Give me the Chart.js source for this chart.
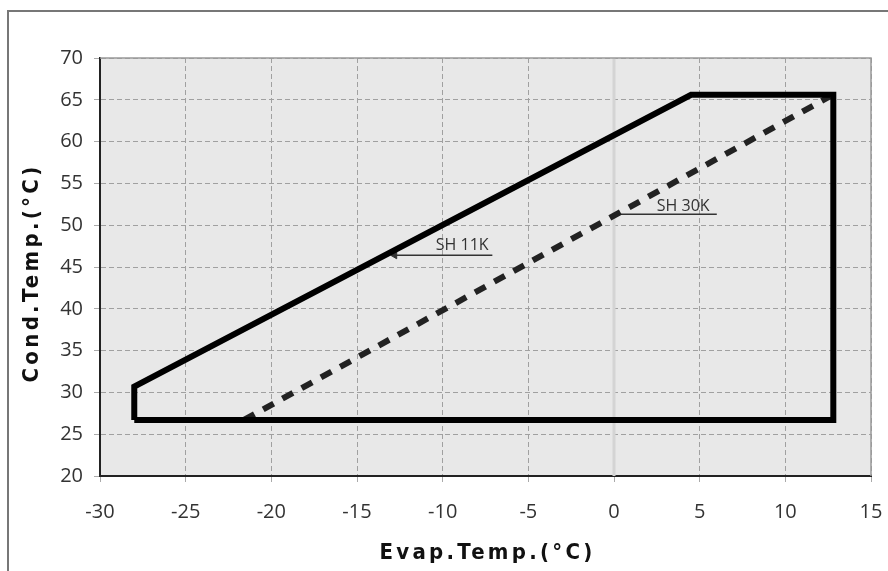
<!DOCTYPE html>
<html>
<head>
<meta charset="utf-8">
<script src="https://cdn.jsdelivr.net/npm/chart.js@4"></script>
<style>
  html, body { margin: 0; padding: 0; background: #fff; }
  #wrap { width: 888px; height: 571px; }
</style>
</head>
<body>
<div id="wrap"><canvas id="chart" width="888" height="571"></canvas></div>
<script>
// operating envelope (evap temp, cond temp)
const envelopeEvap = [-28, -28, 4.5, 12.8, 12.8, -28];
const envelopeCond = [26.7, 30.7, 65.6, 65.6, 26.7, 26.7];
// SH 30K boundary (dashed)
const sh30Evap = [-21.6, 12.6];
const sh30Cond = [26.7, 65.4];
// annotation leader lines
const sh11LeaderEvap = [-12.8, -7.1];
const sh11LeaderCond = [46.4, 46.4];
const sh30LeaderEvap = [0.3, 6.0];
const sh30LeaderCond = [51.3, 51.3];
const labelTexts = ["SH 11K", "SH 30K"];
const labelEvap = [-10.4, 2.5];
const labelCond = [47.0, 51.7];
// axes
const xTicks = [-30, -25, -20, -15, -10, -5, 0, 5, 10, 15];
const yTicks = [20, 25, 30, 35, 40, 45, 50, 55, 60, 65, 70];
const xTitle = "Evap.Temp.(°C)";
const yTitle = "Cond.Temp.(°C)";

function pts(xs, ys) {
  return xs.map((x, i) => ({ x: x, y: ys[i] }));
}

const tickFont = { family: "'Open Sans', 'Noto Sans', sans-serif", size: 20 };
const titleFont = "bold 22px 'DejaVu Sans Condensed', sans-serif";

const framePlugin = {
  id: 'frame',
  beforeDraw(chart) {
    const ctx = chart.ctx, a = chart.chartArea;
    ctx.save();
    ctx.fillStyle = '#fff';
    ctx.fillRect(0, 0, chart.width, chart.height);
    // outer frame
    ctx.strokeStyle = '#777';
    ctx.lineWidth = 2;
    ctx.beginPath();
    ctx.moveTo(8, chart.height);
    ctx.lineTo(8, 11);
    ctx.lineTo(chart.width, 11);
    ctx.stroke();
    // plot background
    ctx.fillStyle = '#e8e8e8';
    ctx.fillRect(a.left, a.top, a.right - a.left, a.bottom - a.top);
    ctx.restore();
  },
  beforeDatasetsDraw(chart) {
    const ctx = chart.ctx, a = chart.chartArea;
    const x0 = chart.scales.x.getPixelForValue(0);
    ctx.save();
    ctx.strokeStyle = '#d4d4d4';
    ctx.lineWidth = 3;
    ctx.beginPath();
    ctx.moveTo(x0, a.top);
    ctx.lineTo(x0, a.bottom);
    ctx.stroke();
    // top and right border
    ctx.strokeStyle = '#999';
    ctx.lineWidth = 1.5;
    ctx.beginPath();
    ctx.moveTo(a.left, a.top);
    ctx.lineTo(a.right, a.top);
    ctx.lineTo(a.right, a.bottom);
    ctx.stroke();
    ctx.restore();
  },
  afterDraw(chart) {
    const ctx = chart.ctx, a = chart.chartArea;
    const sx = chart.scales.x, sy = chart.scales.y;
    ctx.save();
    // annotation labels
    ctx.fillStyle = '#333';
    ctx.font = "16px 'Open Sans', 'Noto Sans', sans-serif";
    ctx.textBaseline = 'alphabetic';
    ctx.textAlign = 'left';
    labelTexts.forEach((t, i) => {
      ctx.fillText(t, sx.getPixelForValue(labelEvap[i]), sy.getPixelForValue(labelCond[i]));
    });
    // axis titles with wide letter spacing
    ctx.fillStyle = '#111';
    ctx.font = titleFont;
    ctx.textAlign = 'center';
    ctx.textBaseline = 'middle';
    function spaced(text, target) {
      ctx.letterSpacing = '0px';
      const w = ctx.measureText(text).width;
      ctx.letterSpacing = Math.max(0, (target - w) / text.length) + 'px';
    }
    spaced(xTitle, 216);
    ctx.fillText(xTitle, (a.left + a.right) / 2 + 2, 553);
    ctx.translate(32, (a.top + a.bottom) / 2 + 6);
    ctx.rotate(-Math.PI / 2);
    spaced(yTitle, 219);
    ctx.fillText(yTitle, 0, 0);
    ctx.restore();
  }
};

new Chart(document.getElementById('chart'), {
  type: 'scatter',
  data: {
    datasets: [
      {
        data: pts(envelopeEvap, envelopeCond),
        showLine: true,
        borderColor: '#000',
        borderWidth: 6,
        borderJoinStyle: 'miter',
        pointRadius: 0
      },
      {
        data: pts(sh30Evap, sh30Cond),
        showLine: true,
        borderColor: '#222',
        borderWidth: 6,
        borderDash: [12, 10],
        pointRadius: 0
      },
      {
        data: pts(sh11LeaderEvap, sh11LeaderCond),
        showLine: true,
        borderColor: '#333',
        borderWidth: 1.5,
        pointStyle: 'triangle',
        pointRotation: 270,
        pointRadius: [4, 0],
        pointBackgroundColor: '#333',
        pointBorderColor: '#333',
        pointBorderWidth: 1
      },
      {
        data: pts(sh30LeaderEvap, sh30LeaderCond),
        showLine: true,
        borderColor: '#333',
        borderWidth: 1.5,
        pointRadius: 0
      }
    ]
  },
  options: {
    responsive: false,
    animation: false,
    events: [],
    layout: { padding: { left: 0, top: 58, right: 17, bottom: 0 } },
    plugins: { legend: { display: false }, tooltip: { enabled: false } },
    scales: {
      x: {
        type: 'linear',
        min: xTicks[0],
        max: xTicks[xTicks.length - 1],
        afterBuildTicks(s) { s.ticks = xTicks.map(v => ({ value: v })); },
        afterFit(s) { s.height = 95; s.paddingLeft = 0; s.paddingRight = 0; },
        ticks: { color: '#333', font: tickFont, padding: 18, maxRotation: 0 },
        grid: {
          color: c => (c.tick && c.tick.value === 0) ? 'rgba(0,0,0,0)' : '#a0a0a0',
          lineWidth: 1,
          tickColor: '#aaa',
          tickLength: 6,
          tickBorderDash: []
        },
        border: { display: true, color: '#222', width: 2, dash: [5, 3] }
      },
      y: {
        type: 'linear',
        min: yTicks[0],
        max: yTicks[yTicks.length - 1],
        afterBuildTicks(s) { s.ticks = yTicks.map(v => ({ value: v })); },
        afterFit(s) { s.width = 100; s.paddingTop = 0; s.paddingBottom = 0; },
        ticks: { color: '#333', font: tickFont, padding: 11 },
        grid: {
          color: '#a0a0a0',
          lineWidth: 1,
          tickColor: '#aaa',
          tickLength: 6,
          tickBorderDash: []
        },
        border: { display: true, color: '#222', width: 2, dash: [5, 3] }
      }
    }
  },
  plugins: [framePlugin]
});
</script>
</body>
</html>
